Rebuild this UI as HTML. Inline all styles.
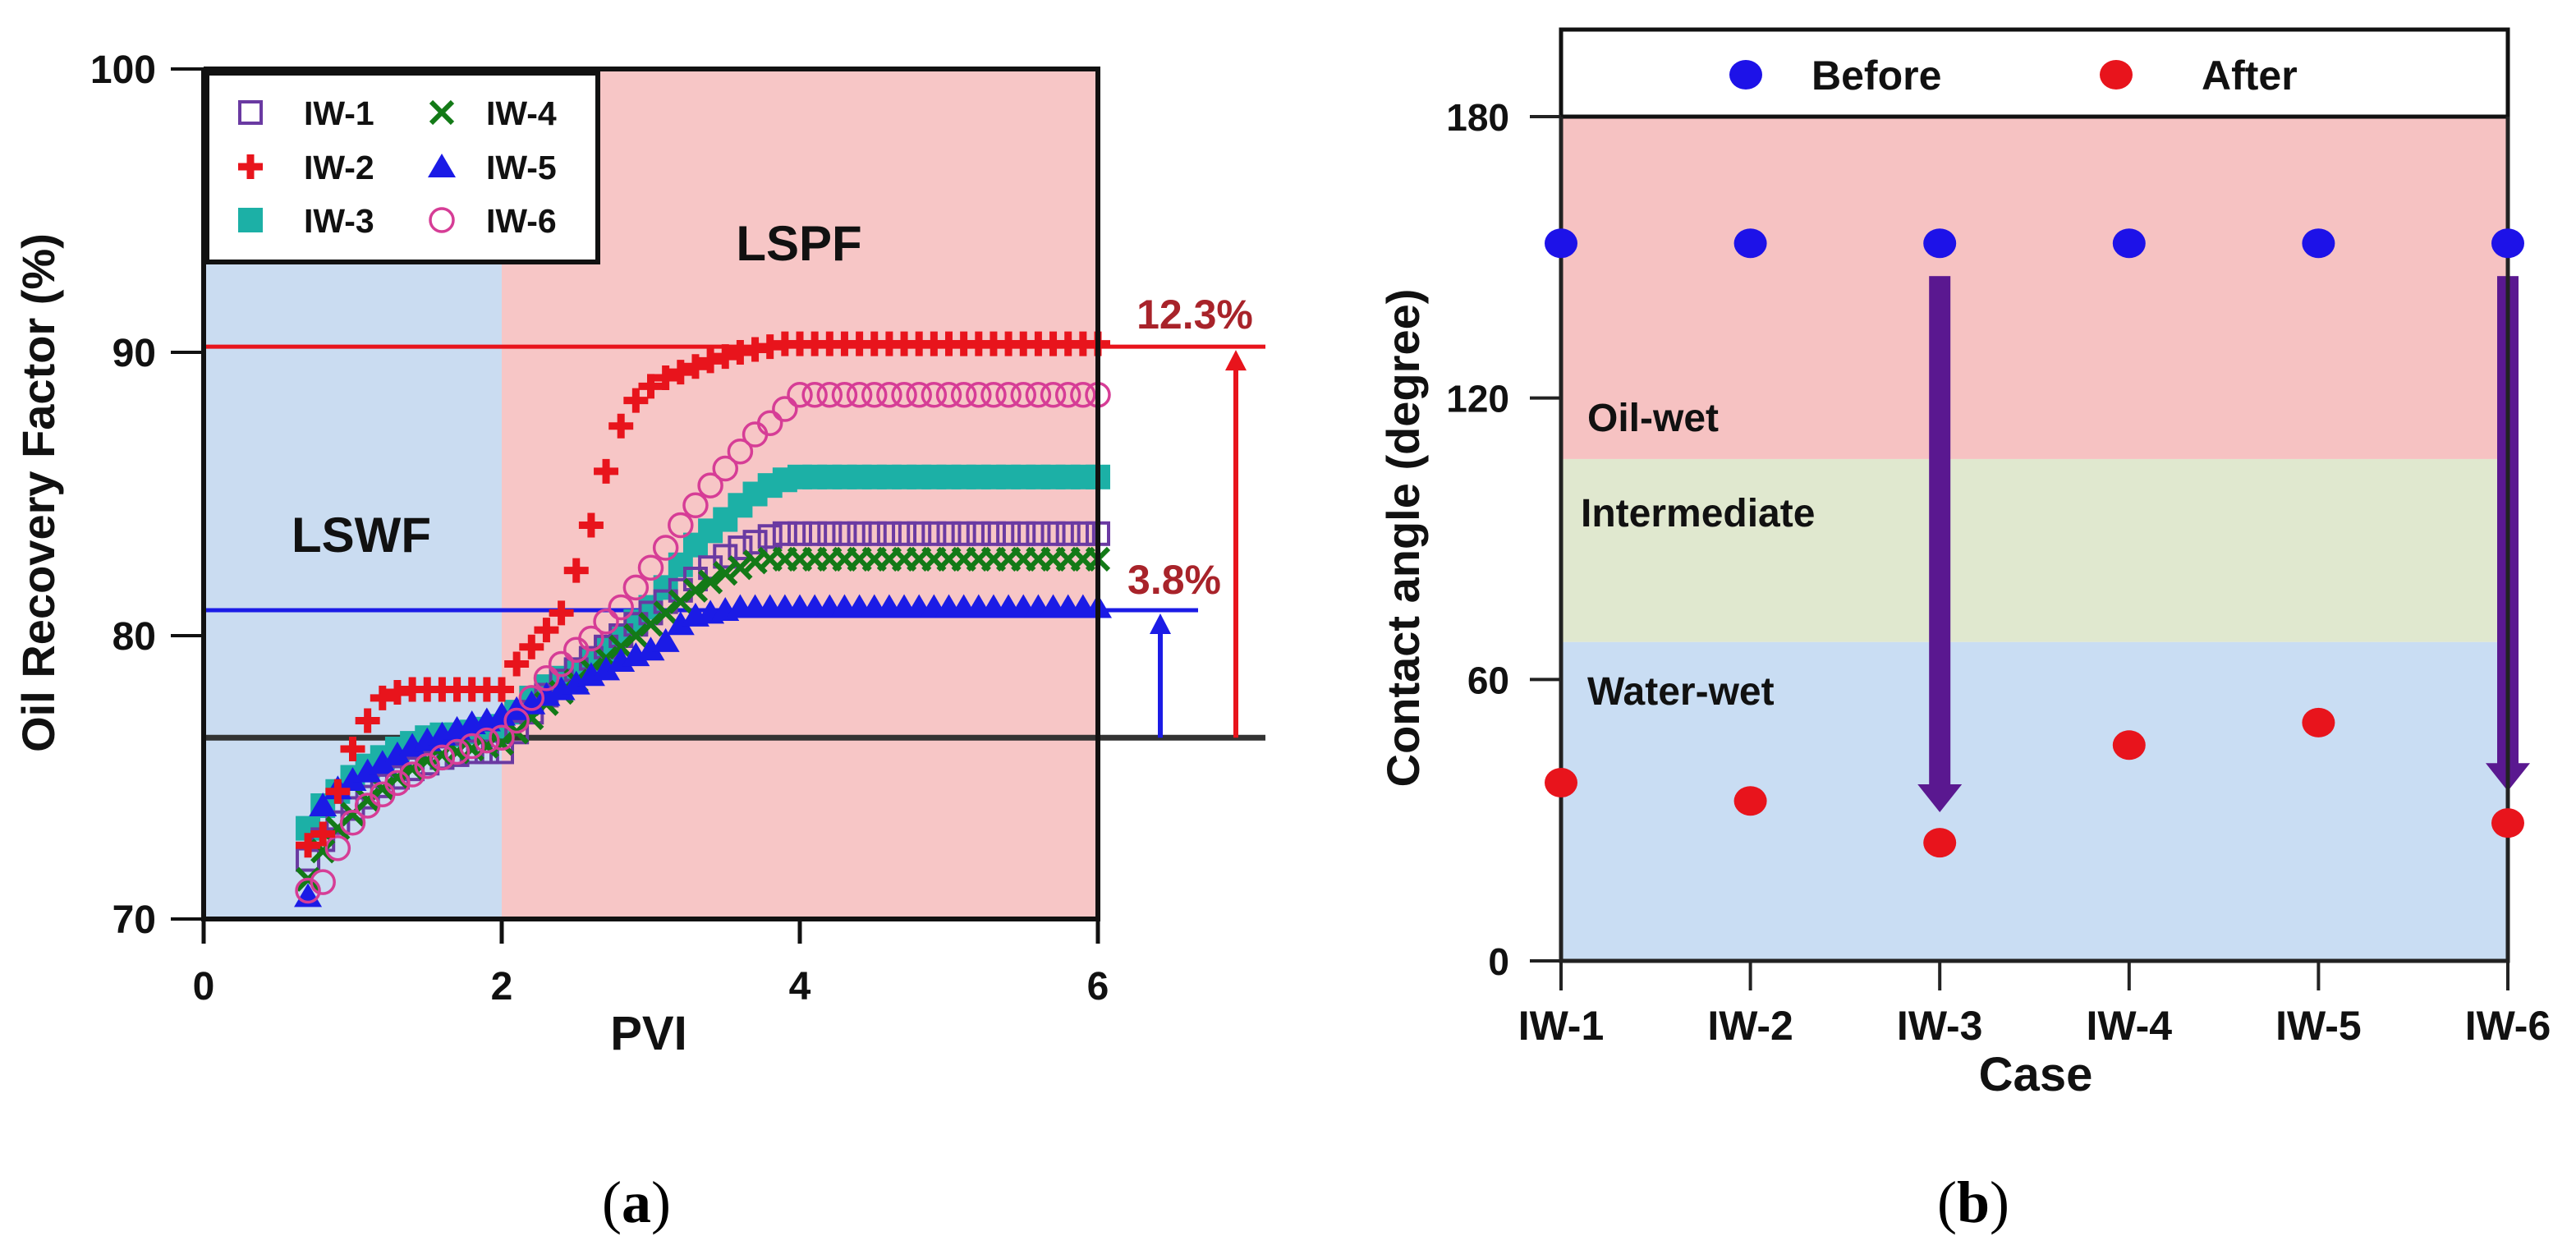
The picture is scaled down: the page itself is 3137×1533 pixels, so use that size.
<!DOCTYPE html>
<html><head><meta charset="utf-8"><style>
html,body{margin:0;padding:0;background:#fff;}
svg{display:block;font-family:"Liberation Sans",sans-serif;font-weight:bold;}
</style></head><body>
<svg id="fig" width="3137" height="1533" viewBox="0 0 3137 1533" xmlns="http://www.w3.org/2000/svg">
<g id="chartA"></g>
<g id="chartB"></g>
<text x="775" y="1488" font-family="Liberation Serif,serif" font-weight="normal" font-size="72" text-anchor="middle">(<tspan font-weight="bold">a</tspan>)</text>
<text x="2403" y="1488" font-family="Liberation Serif,serif" font-weight="normal" font-size="72" text-anchor="middle">(<tspan font-weight="bold">b</tspan>)</text>
</svg>
<script>
// ---------- Chart A data ----------
const pvi = [0.7,0.8,0.9,1.0,1.1,1.2,1.3,1.4,1.5,1.6,1.7,1.8,1.9,2.0,2.1,2.2,2.3,2.4,2.5,2.6,2.7,2.8,2.9,3.0,3.1,3.2,3.3,3.4,3.5,3.6,3.7,3.8,3.9,4.0,4.1,4.2,4.3,4.4,4.5,4.6,4.7,4.8,4.9,5.0,5.1,5.2,5.3,5.4,5.5,5.6,5.7,5.8,5.9,6.0];
const iw1 = [72.1,72.8,73.4,73.9,74.3,74.7,75.0,75.3,75.5,75.7,75.8,75.9,75.9,75.9,76.6,77.3,77.9,78.4,78.8,79.2,79.6,80.0,80.4,80.8,81.2,81.6,82.0,82.4,82.8,83.1,83.3,83.5,83.6,83.6,83.6,83.6,83.6,83.6,83.6,83.6,83.6,83.6,83.6,83.6,83.6,83.6,83.6,83.6,83.6,83.6,83.6,83.6,83.6,83.6];
const iw2 = [72.6,73.0,74.5,76.0,77.0,77.8,78.0,78.1,78.1,78.1,78.1,78.1,78.1,78.1,79.0,79.6,80.2,80.8,82.3,83.9,85.8,87.4,88.3,88.8,89.1,89.3,89.5,89.7,89.85,90.0,90.1,90.2,90.3,90.3,90.3,90.3,90.3,90.3,90.3,90.3,90.3,90.3,90.3,90.3,90.3,90.3,90.3,90.3,90.3,90.3,90.3,90.3,90.3,90.3];
const iw3 = [73.2,74.0,74.5,75.0,75.4,75.7,76.0,76.2,76.4,76.5,76.5,76.6,76.7,76.8,77.3,77.8,78.2,78.5,78.8,79.1,79.5,80.0,80.5,81.0,81.7,82.5,83.2,83.7,84.1,84.6,85.0,85.3,85.5,85.6,85.6,85.6,85.6,85.6,85.6,85.6,85.6,85.6,85.6,85.6,85.6,85.6,85.6,85.6,85.6,85.6,85.6,85.6,85.6,85.6];
const iw4 = [71.4,72.4,73.2,73.7,74.2,74.6,75.0,75.3,75.6,75.8,75.9,76.0,76.1,76.2,76.6,77.1,77.6,78.0,78.4,78.8,79.2,79.6,80.0,80.4,80.8,81.2,81.6,81.9,82.2,82.4,82.6,82.7,82.7,82.7,82.7,82.7,82.7,82.7,82.7,82.7,82.7,82.7,82.7,82.7,82.7,82.7,82.7,82.7,82.7,82.7,82.7,82.7,82.7,82.7];
const iw5 = [70.8,74.0,74.6,74.9,75.2,75.5,75.8,76.1,76.3,76.5,76.7,76.9,77.0,77.2,77.4,77.6,77.9,78.1,78.3,78.6,78.8,79.1,79.3,79.5,79.8,80.4,80.7,80.8,80.9,81.0,81.0,81.0,81.0,81.0,81.0,81.0,81.0,81.0,81.0,81.0,81.0,81.0,81.0,81.0,81.0,81.0,81.0,81.0,81.0,81.0,81.0,81.0,81.0,81.0];
const iw6 = [71.0,71.3,72.5,73.4,74.0,74.4,74.8,75.1,75.4,75.7,75.9,76.1,76.3,76.4,77.0,77.8,78.5,79.0,79.5,79.9,80.5,81.0,81.7,82.4,83.1,83.9,84.6,85.3,85.9,86.5,87.1,87.5,88.0,88.5,88.5,88.5,88.5,88.5,88.5,88.5,88.5,88.5,88.5,88.5,88.5,88.5,88.5,88.5,88.5,88.5,88.5,88.5,88.5,88.5];
const seriesNames = ["IW-1","IW-2","IW-3","IW-4","IW-5","IW-6"];
const xTicksA = [0,2,4,6];
const yTicksA = [70,80,90,100];
const refLevels = [90.2,80.9,76.4];
const gainLabels = ["12.3%","3.8%"];

// ---------- Chart B data ----------
const cases = ["IW-1","IW-2","IW-3","IW-4","IW-5","IW-6"];
const before = [153,153,153,153,153,153];
const after = [38.0,34.1,25.2,46.0,50.8,29.4];
const yTicksB = [0,60,120,180];
const bandEdges = [0,68,107,180];
const bandNames = ["Water-wet","Intermediate","Oil-wet"];
const arrowCases = [2,5];
const arrowStart = [146,146];
const arrowEnd = [31.7,36.2];

const NS="http://www.w3.org/2000/svg";
function mk(parent,tag,attrs,text){const e=document.createElementNS(NS,tag);for(const k in attrs)e.setAttribute(k,attrs[k]);if(text!==undefined)e.textContent=text;parent.appendChild(e);return e;}

// ===== Chart A =====
const A=document.getElementById('chartA');
const ax=v=>248+(v-0)*181.5;
const ay=v=>1119-(v-70)*34.5;
let e;
e=mk(A,'rect',{x:ax(0),y:ay(100),width:ax(2)-ax(0),height:ay(70)-ay(100),fill:'#cadcf1'});


e=mk(A,'rect',{x:ax(2),y:ay(100),width:ax(6)-ax(2),height:ay(70)-ay(100),fill:'#f7c6c6'});


// reference lines
const refColors=['#e8141c','#1b1be6','#333'];
const refEnds=[1541,1459,1541];
refLevels.forEach((v,i)=>{
  e=mk(A,'line',{x1:ax(0),x2:refEnds[i],y1:ay(v),y2:ay(v),stroke:refColors[i],'stroke-width':i==2?7:5});
  
  
});
// arrows
function arrowUp(g,x,y1,y2,col,name){
  const a=mk(g,'g',{});
  
  
  mk(a,'line',{x1:x,x2:x,y1:y1,y2:y2+20,stroke:col,'stroke-width':6});
  mk(a,'polygon',{points:`${x-13},${y2+25} ${x+13},${y2+25} ${x},${y2}`,fill:col});
}
arrowUp(A,1413,ay(refLevels[2]),ay(refLevels[1])+4,'#1b1be6','gain-arrow-blue');
arrowUp(A,1505,ay(refLevels[2]),ay(refLevels[0])+4,'#e8141c','gain-arrow-red');
e=mk(A,'text',{x:1455,y:ay(refLevels[0])-22,'font-size':50,fill:'#a8232a','text-anchor':'middle'},gainLabels[0]);


e=mk(A,'text',{x:1430,y:ay(refLevels[1])-20,'font-size':50,fill:'#a8232a','text-anchor':'middle'},gainLabels[1]);


// region labels
e=mk(A,'text',{x:440,y:672,'font-size':60,'text-anchor':'middle',fill:'#111'},'LSWF');


e=mk(A,'text',{x:973,y:317,'font-size':60,'text-anchor':'middle',fill:'#111'},'LSPF');



// markers
function marker(g,type,x,y,col){
  const s=15;
  if(type==='sq') return mk(g,'rect',{x:x-s+2,y:y-s+2,width:2*s-4,height:2*s-4,fill:'none',stroke:col,'stroke-width':4});
  if(type==='fsq') return mk(g,'rect',{x:x-s,y:y-s,width:2*s,height:2*s,fill:col});
  if(type==='plus') return mk(g,'path',{d:`M${x-s},${y}H${x+s}M${x},${y-s}V${y+s}`,stroke:col,'stroke-width':9,fill:'none'});
  if(type==='x') return mk(g,'path',{d:`M${x-13},${y-13}L${x+13},${y+13}M${x-13},${y+13}L${x+13},${y-13}`,stroke:col,'stroke-width':6,fill:'none'});
  if(type==='tri') return mk(g,'polygon',{points:`${x},${y-16} ${x-17},${y+13} ${x+17},${y+13}`,fill:col});
  if(type==='circ') return mk(g,'circle',{cx:x,cy:y,r:14,fill:'none',stroke:col,'stroke-width':3.5});
}
const sData=[iw3,iw1,iw4,iw5,iw6,iw2];
const sIdx=[2,0,3,4,5,1];
const types=['sq','plus','fsq','x','tri','circ'];
const cols=['#6a3aa2','#e8141c','#1cb0a6','#137a17','#1b1be6','#d63d96'];
sData.forEach((arr,k)=>{
  const i=sIdx[k];
  const g=mk(A,'g',{});
  
  
  arr.forEach((v,j)=>{
    const m=marker(g,types[i],ax(pvi[j]),ay(v),cols[i]);
    
    
  });
});
// axes
e=mk(A,'path',{d:`M${ax(0)},${ay(100)}V${ay(70)}H${ax(6)}V${ay(100)}H${ax(0)}`,fill:'none',stroke:'#111','stroke-width':6});


yTicksA.forEach(v=>{
  mk(A,'line',{x1:ax(0)-40,x2:ax(0),y1:ay(v),y2:ay(v),stroke:'#111','stroke-width':4});
  e=mk(A,'text',{x:190,y:ay(v)+17,'font-size':48,'text-anchor':'end',fill:'#111'},String(v));
  
  
});
xTicksA.forEach(v=>{
  mk(A,'line',{x1:ax(v),x2:ax(v),y1:ay(70),y2:ay(70)+30,stroke:'#111','stroke-width':5});
  e=mk(A,'text',{x:ax(v),y:1217,'font-size':48,'text-anchor':'middle',fill:'#111'},String(v));
  
  
});
e=mk(A,'text',{x:790,y:1278,'font-size':58,'text-anchor':'middle',fill:'#111'},'PVI');


e=mk(A,'text',{x:0,y:0,'font-size':56,'text-anchor':'middle',fill:'#111',transform:'translate(66,600) rotate(-90)'},'Oil Recovery Factor (%)');


// legend
const L=mk(A,'g',{});


mk(L,'rect',{x:252,y:89,width:476,height:230,fill:'#fff',stroke:'#111','stroke-width':6});
const legPos=[[305,137],[305,203],[305,268],[538,137],[538,203],[538,268]];
seriesNames.forEach((n,i)=>{
  const it=mk(L,'g',{});
  
  
  marker(it,types[i],legPos[i][0],legPos[i][1],cols[i]);
  mk(it,'text',{x:legPos[i][0]+(i<3?65:54),y:legPos[i][1]+15,'font-size':41,fill:'#111'},n);
});

// ===== Chart B =====
const B=document.getElementById('chartB');
const bx=i=>1901+i*230.6;
const by=v=>1170-v*5.711;
const bandCols=['#c9ddf3','#e0e8cf','#f6c2c2'];
for(let i=0;i<3;i++){
  e=mk(B,'rect',{x:bx(0),y:by(bandEdges[i+1]),width:bx(5)-bx(0),height:by(bandEdges[i])-by(bandEdges[i+1]),fill:bandCols[i]});
  
  
}
const bandLabelY=[841,624,508];
const bandLabelX=[1933,1925,1933];
bandNames.forEach((n,i)=>{
  e=mk(B,'text',{x:bandLabelX[i],y:bandLabelY[i]+17,'font-size':48,fill:'#111'},n);
  
  
});
// legend box
e=mk(B,'rect',{x:bx(0),y:36,width:bx(5)-bx(0),height:by(180)-36,fill:'#fff',stroke:'#111','stroke-width':5});


e=mk(B,'ellipse',{cx:2126,cy:91,rx:20,ry:18,fill:'#1d12e8'});


e=mk(B,'text',{x:2206,y:109,'font-size':50,fill:'#111'},'Before');


e=mk(B,'ellipse',{cx:2577,cy:91,rx:20,ry:18,fill:'#e8141c'});


e=mk(B,'text',{x:2681,y:109,'font-size':50,fill:'#111'},'After');


// arrows
arrowCases.forEach((c,k)=>{
  const g=mk(B,'g',{});
  
  
  const x=bx(c), y1=by(arrowStart[k]), y2=by(arrowEnd[k]);
  mk(g,'rect',{x:x-13,y:y1,width:26,height:y2-y1-30,fill:'#5a1890'});
  mk(g,'polygon',{points:`${x-27},${y2-34} ${x+27},${y2-34} ${x},${y2}`,fill:'#5a1890'});
});
// axes
e=mk(B,'path',{d:`M${bx(0)},${by(180)}V${by(0)}H${bx(5)}V${by(180)}`,fill:'none',stroke:'#222','stroke-width':5});


yTicksB.forEach(v=>{
  mk(B,'line',{x1:bx(0)-38,x2:bx(0),y1:by(v),y2:by(v),stroke:'#222','stroke-width':4});
  e=mk(B,'text',{x:1838,y:by(v)+17,'font-size':46,'text-anchor':'end',fill:'#111'},String(v));
  
  
});
cases.forEach((c,i)=>{
  mk(B,'line',{x1:bx(i),x2:bx(i),y1:by(0),y2:by(0)+36,stroke:'#222','stroke-width':4});
  e=mk(B,'text',{x:bx(i),y:1266,'font-size':50,'text-anchor':'middle',fill:'#111'},c);
  
  
});
e=mk(B,'text',{x:2479,y:1328,'font-size':58,'text-anchor':'middle',fill:'#111'},'Case');


e=mk(B,'text',{x:0,y:0,'font-size':56,'text-anchor':'middle',fill:'#111',transform:'translate(1728,655) rotate(-90)'},'Contact angle (degree)');


// points
cases.forEach((c,i)=>{
  e=mk(B,'ellipse',{cx:bx(i),cy:by(before[i]),rx:20,ry:18,fill:'#1d12e8'});
  
  
  e=mk(B,'ellipse',{cx:bx(i),cy:by(after[i]),rx:20,ry:18,fill:'#e8141c'});
  
  
});
</script>
</body></html>
